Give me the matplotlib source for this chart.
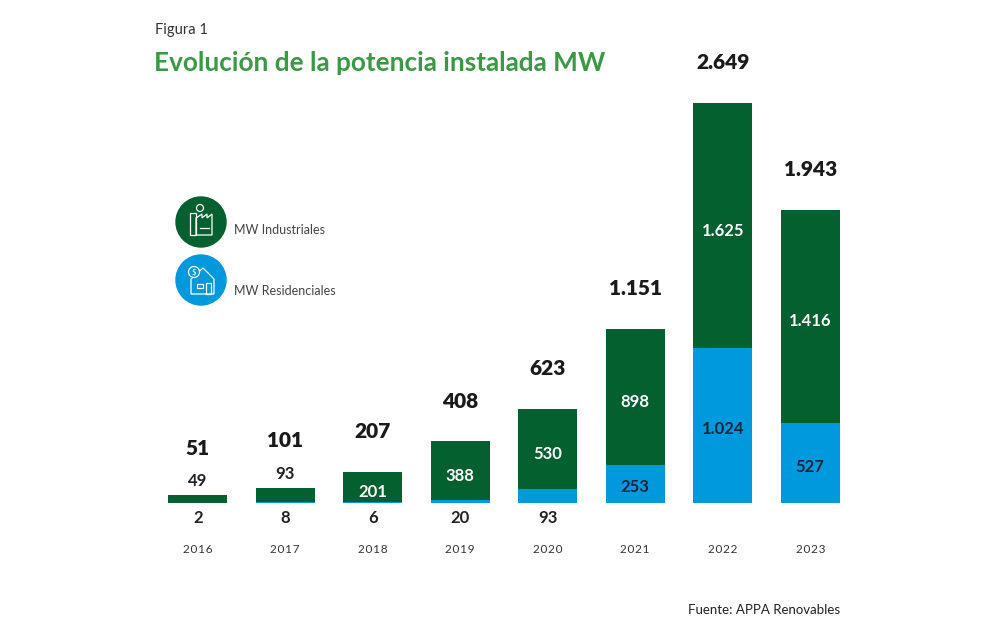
#!/usr/bin/env python3
"""Evolución de la potencia instalada MW - stacked bars."""

import matplotlib.pyplot as plt
from matplotlib.patches import Circle, Rectangle, Polygon

years = ["2016", "2017", "2018", "2019", "2020", "2021", "2022", "2023"]
industrial = [49, 93, 201, 388, 530, 898, 1625, 1416]
residential = [2, 8, 6, 20, 93, 253, 1024, 527]
totals = [51, 101, 207, 408, 623, 1151, 2649, 1943]

GREEN = "#04602F"
BLUE = "#0199DD"
TITLE_GREEN = "#3A9A43"
FONT = "Lato"

plt.rcParams["font.family"] = [FONT, "DejaVu Sans"]

W, H = 1000, 640


def fmt(v):
    return f"{v:,}".replace(",", ".")


def px(x, y):
    return x / W, 1 - y / H


fig = plt.figure(figsize=(W / 100, H / 100), dpi=100)

# main bar axes: baseline at y=503px, 2649 MW -> 400px
ax = fig.add_axes([154 / W, 137 / H, 700 / W, 453 / H])
ax.set_xlim(-0.5, len(years) - 0.5)
ax.set_ylim(0, 3000)
ax.axis("off")

xs = list(range(len(years)))
bw = 0.675
ax.bar(xs, residential, width=bw, color=BLUE, linewidth=0)
ax.bar(xs, industrial, width=bw, bottom=residential, color=GREEN, linewidth=0)

for x, ind, res, tot in zip(xs, industrial, residential, totals):
    # industrial label
    if ind >= 150:
        ax.annotate(fmt(ind), (x, res + ind / 2), xytext=(0, -3.5), textcoords="offset points",
                    ha="center", va="center", color="white", fontsize=12, fontweight="bold")
        tot_off = 29
    else:
        ax.annotate(fmt(ind), (x, tot), xytext=(0, 10), textcoords="offset points",
                    ha="center", va="center", color="#222222", fontsize=12, fontweight="bold")
        tot_off = 34
    # residential label
    if res >= 200:
        ax.annotate(fmt(res), (x, res / 2), xytext=(0, -2.5), textcoords="offset points",
                    ha="center", va="center", color="#13253A", fontsize=12, fontweight="bold")
    else:
        ax.annotate(fmt(res), (x, 0), xytext=(0, -11), textcoords="offset points",
                    ha="center", va="center", color="#222222", fontsize=12, fontweight="bold")
    # total
    ax.annotate(fmt(tot), (x, tot), xytext=(0, tot_off), textcoords="offset points",
                ha="center", va="center", color="#1A1A1A", fontsize=15, fontweight="heavy")
    # year
    ax.annotate("\u200a".join(years[x]), (x, 0), xytext=(0, -33.5), textcoords="offset points",
                ha="center", va="center", color="#333333", fontsize=8.5)

# texts
fig.text(*px(155, 30), "Figura 1", ha="left", va="center", fontsize=10.5, color="#333333")
fig.text(*px(154, 63), "Evolución de la potencia instalada MW", ha="left", va="center",
         fontsize=18.8, fontweight="bold", color=TITLE_GREEN)
fig.text(*px(840, 610), "Fuente: APPA Renovables", ha="right", va="center",
         fontsize=9.5, color="#222222")

# legend with icons, drawn in a pixel-space overlay
ov = fig.add_axes([0, 0, 1, 1])
ov.set_xlim(0, W)
ov.set_ylim(H, 0)
ov.axis("off")
ov.set_zorder(-1)

lw = 0.9
# industrial icon
ov.add_patch(Circle((201, 222), 25, color=GREEN))
ov.add_patch(Rectangle((190, 213), 6, 22, fill=False, ec="white", lw=lw))
ov.add_patch(Polygon([(196, 235), (196, 218), (202, 214), (202, 218), (207, 214),
                      (207, 218), (212, 214), (212, 235)], closed=True, fill=False, ec="white", lw=lw))
ov.plot([200, 209], [228, 228], color="white", lw=lw)
ov.add_patch(Circle((200, 208), 3.5, fill=False, ec="white", lw=lw))
fig.text(*px(234, 230), "MW Industriales", ha="left", va="center", fontsize=9, color="#444444")

# residential icon
ov.add_patch(Circle((201, 280), 25, color=BLUE))
ov.add_patch(Polygon([(191, 294), (191, 279), (203, 268), (214, 279), (214, 294)],
                     closed=True, fill=False, ec="white", lw=lw))
ov.add_patch(Circle((194, 272), 5.5, color=BLUE, ec="white", lw=lw))
ov.text(194, 272.5, "$", ha="center", va="center", fontsize=5.5, color="white")
ov.add_patch(Rectangle((197, 284), 6, 4, fill=False, ec="white", lw=lw))
ov.add_patch(Rectangle((206, 283), 5, 11, fill=False, ec="white", lw=lw))
fig.text(*px(234, 291), "MW Residenciales", ha="left", va="center", fontsize=9, color="#444444")

fig.savefig("out.png", dpi=100, facecolor="white")
